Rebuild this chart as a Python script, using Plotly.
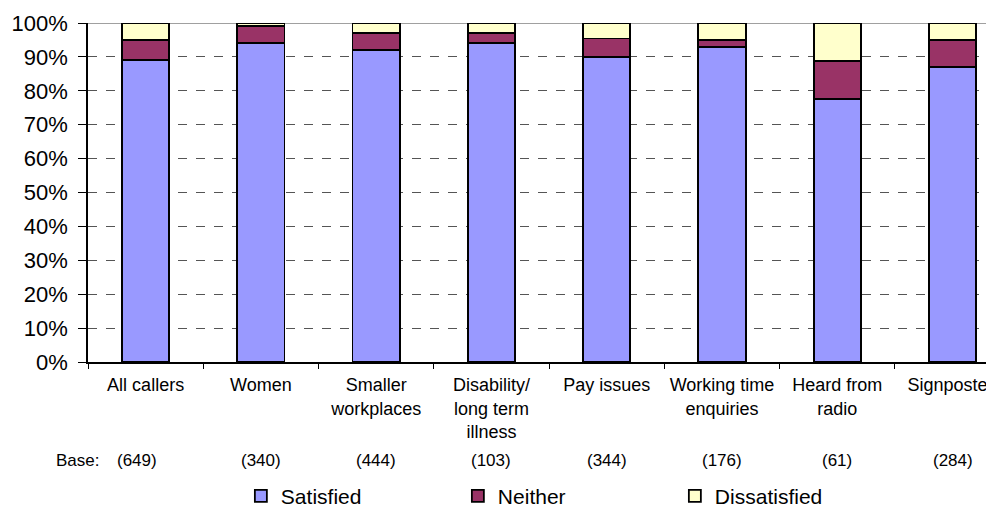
import plotly.graph_objects as go

categories = ["All callers", "Women", "Smaller<br>workplaces", "Disability/<br>long term<br>illness",
              "Pay issues", "Working time<br>enquiries", "Heard from<br>radio", "Signposted"]
bases = ["(649)", "(340)", "(444)", "(103)", "(344)", "(176)", "(61)", "(284)"]
satisfied = [89, 94, 92, 94, 90, 93, 77.6, 87]
neither = [6, 5, 5, 3, 5.4, 2, 11.1, 8]
dissatisfied = [5, 1, 3, 3, 4.6, 5, 11.3, 5]
y_ticks = [0, 10, 20, 30, 40, 50, 60, 70, 80, 90, 100]
y_labels = [f"{v}%" for v in y_ticks]

FONT = "Liberation Sans, Arial, sans-serif"
fig = go.Figure()
for name, vals, col in [("Satisfied", satisfied, "#9999FF"),
                        ("Neither", neither, "#993366"),
                        ("Dissatisfied", dissatisfied, "#FFFFCC")]:
    fig.add_trace(go.Bar(x=categories, y=vals, name=name, marker_color=col,
                         marker_line_color="black", marker_line_width=1.8, width=0.41))

fig.add_shape(type="line", xref="paper", yref="y", x0=0, x1=1, y0=100, y1=100,
              line=dict(color="#808080", width=1.5), layer="below")

for i, (c, b) in enumerate(zip(categories, bases)):
    fig.add_annotation(x=c, y=-0.292, xref="x", yref="paper", text=b, showarrow=False,
                       font=dict(size=17, color="black", family=FONT), yanchor="middle",
                       xshift=-9 if i == 0 else 0)
fig.add_annotation(x=(54 - 88) / 906, y=-0.292, xref="paper", yref="paper", text="Base:",
                   showarrow=False, font=dict(size=17, color="black", family=FONT),
                   yanchor="middle", xanchor="left")

fig.update_layout(
    barmode="stack",
    width=986, height=501,
    margin=dict(l=80, r=0, t=15, b=147, autoexpand=False),
    plot_bgcolor="white", paper_bgcolor="white",
    font=dict(family=FONT, color="black"),
    showlegend=True,
    legend=dict(orientation="h", x=0.528, xanchor="center", y=-0.396, yanchor="middle",
                font=dict(size=21, family=FONT), entrywidth=172, entrywidthmode="pixels",
                traceorder="normal"),
    xaxis=dict(type="category", range=[-0.5, 7.36], tickson="boundaries", ticks="outside",
               ticklen=5, tickcolor="black", showline=True, linecolor="black", linewidth=1.5,
               showgrid=False, tickfont=dict(size=18, family=FONT), tickangle=0,
               automargin=False, ticklabelstandoff=6),
    yaxis=dict(range=[0, 100], tickvals=y_ticks, ticktext=y_labels, ticks="outside", ticklen=8,
               tickcolor="black", showline=True, linecolor="black", linewidth=1.5,
               showgrid=True, gridcolor="#555555", griddash="dash", gridwidth=1,
               tickfont=dict(size=22, family=FONT), zeroline=False, automargin=False,
               ticklabelstandoff=6),
)
fig.write_html("out.html")
